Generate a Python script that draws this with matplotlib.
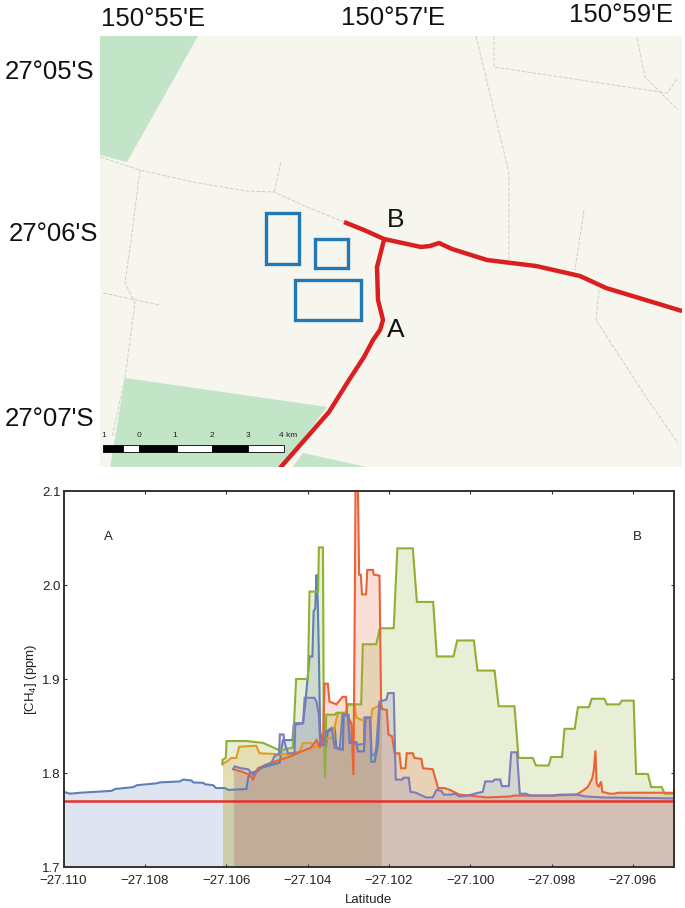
import matplotlib
matplotlib.use("Agg")
import matplotlib.pyplot as plt
from matplotlib.patches import Polygon, Rectangle

plt.rcParams['font.family'] = ['Liberation Sans', 'DejaVu Sans']
plt.rcParams['mathtext.default'] = 'regular'

W, H = 685, 908

# methane traverses, latitude / ppm
blue_lat = [-27.1100, -27.10984, -27.10959, -27.10882, -27.10873, -27.10828, -27.10820, -27.10771, -27.10763,
            -27.10714, -27.10706, -27.10685, -27.10681, -27.10656, -27.10652, -27.10632, -27.10625, -27.10603,
            -27.10595, -27.10550, -27.10546, -27.10542, -27.10530, -27.10518, -27.10468, -27.10464, -27.10460,
            -27.10437, -27.10434, -27.10411, -27.10405, -27.10395, -27.10388, -27.10385, -27.10381, -27.10378,
            -27.10375, -27.10372, -27.10369, -27.10362, -27.10355, -27.10350, -27.10333, -27.10329, -27.10313,
            -27.10311, -27.10301, -27.10296, -27.10280, -27.10276, -27.10261, -27.10260, -27.10246, -27.10243,
            -27.10235, -27.10227, -27.10223, -27.10219]
blue_ch4 = [1.780, 1.778, 1.779, 1.781, 1.783, 1.785, 1.787, 1.789, 1.790,
            1.791, 1.793, 1.792, 1.790, 1.7895, 1.788, 1.787, 1.784, 1.784,
            1.782, 1.783, 1.795, 1.800, 1.801, 1.805, 1.811, 1.827, 1.835,
            1.835, 1.851, 1.853, 1.876, 1.924, 1.924, 1.972, 1.975, 2.011,
            1.986, 1.926, 1.844, 1.830, 1.827, 1.844, 1.848, 1.827, 1.825,
            1.862, 1.861, 1.832, 1.832, 1.823, 1.823, 1.859, 1.859, 1.812,
            1.812, 1.830, 1.866, 1.876]

orange_lat = [-27.10609, -27.10599, -27.10587, -27.10575, -27.10568, -27.10526, -27.10518, -27.10468, -27.10444,
              -27.10419, -27.10411, -27.10391, -27.10383, -27.10350, -27.10337, -27.10333, -27.10325, -27.10305,
              -27.10301, -27.10284, -27.10280, -27.10264, -27.10243, -27.10241, -27.10227, -27.10219]
orange_ch4 = [1.810, 1.812, 1.816, 1.816, 1.828, 1.829, 1.821, 1.820, 1.820,
              1.823, 1.832, 1.832, 1.827, 1.837, 1.838, 1.850, 1.864, 1.864,
              1.873, 1.873, 1.859, 1.856, 1.859, 1.868, 1.871, 1.876]

green_lat = [-27.10609, -27.10609, -27.10601, -27.10599, -27.10550, -27.10509, -27.10468, -27.10436, -27.10428, -27.10399,
             -27.10395, -27.10374, -27.10372, -27.10362, -27.10360, -27.10357, -27.10354, -27.10333, -27.10329,
             -27.10305, -27.10301, -27.10268, -27.10264, -27.10231, -27.10222, -27.10188, -27.10179, -27.10141,
             -27.10131, -27.10091, -27.10082, -27.10041, -27.10032, -27.09991, -27.09982, -27.09940, -27.09930,
             -27.09891, -27.09881, -27.09846, -27.09838, -27.09807, -27.09801, -27.09774, -27.09768, -27.09743,
             -27.09735, -27.09708, -27.09701, -27.09670, -27.09664, -27.09633, -27.09627, -27.09598, -27.09592,
             -27.09563, -27.09555, -27.09529, -27.09522, -27.09500]
green_ch4 = [1.809, 1.814, 1.816, 1.834, 1.834, 1.832, 1.824, 1.827, 1.900, 1.900,
             1.993, 1.993, 2.040, 2.040, 1.862, 1.795, 1.862, 1.862, 1.864,
             1.864, 1.873, 1.873, 1.937, 1.937, 1.954, 1.954, 2.039, 2.039,
             1.982, 1.982, 1.924, 1.924, 1.941, 1.941, 1.909, 1.909, 1.871,
             1.871, 1.816, 1.816, 1.808, 1.808, 1.817, 1.817, 1.847, 1.847,
             1.870, 1.870, 1.879, 1.879, 1.873, 1.873, 1.877, 1.877, 1.799,
             1.799, 1.785, 1.785, 1.778, 1.778]

red_lat = [-27.10581, -27.10559, -27.10542, -27.10534, -27.10522, -27.10501, -27.10468, -27.10440, -27.10415,
           -27.10391, -27.10378, -27.10370, -27.10362, -27.10358, -27.10350, -27.10346, -27.10329, -27.10314,
           -27.10305, -27.10303, -27.10292, -27.10287, -27.10284, -27.10282, -27.10276, -27.10273, -27.10269,
           -27.10266, -27.10256, -27.10253, -27.10239, -27.10237, -27.10223, -27.10219, -27.10216, -27.10205,
           -27.10201, -27.10192, -27.10186, -27.10174, -27.10170, -27.10159, -27.10156, -27.10141, -27.10137,
           -27.10120, -27.10116, -27.10092, -27.10079, -27.10063, -27.10050, -27.10026, -27.10001, -27.09960,
           -27.09903, -27.09891, -27.09797, -27.09739, -27.09727, -27.09711, -27.09700, -27.09696, -27.09692,
           -27.09689, -27.09684, -27.09678, -27.09675, -27.09657, -27.09645, -27.09637, -27.09500]
red_ch4 = [1.804, 1.801, 1.798, 1.793, 1.805, 1.809, 1.814, 1.818, 1.823,
           1.827, 1.835, 1.827, 1.834, 1.895, 1.895, 1.876, 1.873, 1.881,
           1.881, 1.862, 1.853, 1.798, 1.965, 2.100, 2.100, 2.011, 2.011,
           1.990, 1.990, 2.016, 2.016, 2.011, 2.010, 1.873, 1.868, 1.867,
           1.841, 1.839, 1.821, 1.821, 1.805, 1.805, 1.821, 1.821, 1.816,
           1.815, 1.805, 1.804, 1.784, 1.784, 1.782, 1.777, 1.776, 1.774,
           1.775, 1.776, 1.776, 1.777, 1.780, 1.785, 1.794, 1.803, 1.824,
           1.789, 1.785, 1.791, 1.780, 1.778, 1.778, 1.779, 1.779]

purple_lat = [-27.10583, -27.10579, -27.10563, -27.10546, -27.10534, -27.10522, -27.10513, -27.10489, -27.10481,
              -27.10470, -27.10468, -27.10459, -27.10456, -27.10448, -27.10432, -27.10430, -27.10411, -27.10407,
              -27.10383, -27.10378, -27.10372, -27.10369, -27.10358, -27.10355, -27.10341, -27.10333, -27.10321,
              -27.10314, -27.10299, -27.10296, -27.10280, -27.10278, -27.10260, -27.10257, -27.10246, -27.10242,
              -27.10235, -27.10231, -27.10223, -27.10206, -27.10202, -27.10188, -27.10183, -27.10167, -27.10164,
              -27.10151, -27.10147, -27.10133, -27.10124, -27.10108, -27.10092, -27.10083, -27.10071, -27.10065,
              -27.10046, -27.10038, -27.10026, -27.10005, -27.09989, -27.09969, -27.09963, -27.09944, -27.09940,
              -27.09926, -27.09922, -27.09905, -27.09899, -27.09885, -27.09878, -27.09862, -27.09854, -27.09797,
              -27.09780, -27.09739, -27.09715, -27.09674, -27.09500]
purple_ch4 = [1.804, 1.807, 1.805, 1.804, 1.798, 1.802, 1.806, 1.811, 1.818,
              1.820, 1.841, 1.841, 1.832, 1.821, 1.821, 1.853, 1.853, 1.880,
              1.880, 1.876, 1.862, 1.830, 1.830, 1.844, 1.848, 1.827, 1.825,
              1.862, 1.862, 1.833, 1.833, 1.830, 1.831, 1.859, 1.859, 1.820,
              1.819, 1.827, 1.876, 1.878, 1.885, 1.885, 1.793, 1.793, 1.795,
              1.795, 1.780, 1.779, 1.777, 1.774, 1.774, 1.782, 1.781, 1.777,
              1.777, 1.778, 1.775, 1.776, 1.778, 1.780, 1.791, 1.791, 1.793,
              1.793, 1.786, 1.786, 1.822, 1.822, 1.778, 1.778, 1.776, 1.776,
              1.777, 1.777, 1.775, 1.774, 1.773]

background_ch4 = 1.77

series = [(blue_lat, blue_ch4, '#5E81B5'),
          (orange_lat, orange_ch4, '#E19C24'),
          (green_lat, green_ch4, '#8FB032'),
          (red_lat, red_ch4, '#EB6235'),
          (purple_lat, purple_ch4, '#7C7CBC')]

xticks = [-27.110, -27.108, -27.106, -27.104, -27.102, -27.100, -27.098, -27.096]
xtick_labels = ['\u221227.110', '\u221227.108', '\u221227.106', '\u221227.104',
                '\u221227.102', '\u221227.100', '\u221227.098', '\u221227.096']
yticks = [1.7, 1.8, 1.9, 2.0, 2.1]

# map pieces, in map image pixels
green_areas = [[(100, 36), (198, 36), (127, 162), (100, 155)],
               [(125, 378), (327, 407), (281, 468), (110, 468)],
               [(303, 453), (371, 468), (292, 468)]]
study_boxes = [(266, 213, 33, 51), (315, 239, 33, 29), (295, 280, 66, 40)]
road_a = [(280, 468), (329, 412), (349, 380), (364, 357), (373, 340), (380, 330), (383, 320), (378, 300),
          (377, 267), (384, 240)]
road_b = [(344, 222), (364, 230), (384, 239), (421, 247), (430, 246), (439, 243), (452, 249), (487, 260),
          (536, 266), (580, 276), (606, 288), (682, 311)]
tracks = [[(100, 157), (140, 170), (193, 182), (246, 191), (274, 192), (307, 207), (344, 222)],
          [(140, 170), (132, 233), (125, 283), (135, 303), (125, 378), (112, 437)],
          [(281, 162), (274, 192)],
          [(476, 36), (509, 173), (509, 260)],
          [(494, 36), (494, 67), (667, 93), (678, 78)],
          [(637, 38), (645, 77), (678, 110)],
          [(584, 210), (575, 270)],
          [(599, 290), (596, 320), (646, 397), (678, 443)],
          [(103, 293), (160, 305)]]
scale_edges = [103, 123, 139, 177, 212, 248, 284]
scale_ticks = [104, 139, 175, 212, 248]
scale_labels = ['1', '0', '1', '2', '3']

fig = plt.figure(figsize=(W / 100, H / 100), dpi=100)

# map
ax_map = fig.add_axes([100 / W, 1 - 467 / H, 582 / W, 431 / H])
ax_map.set_xlim(100, 682)
ax_map.set_ylim(467, 36)
ax_map.axis('off')
ax_map.add_patch(Rectangle((100, 36), 582, 431, fc='#f7f6ee', ec='none'))
for pts in green_areas:
    ax_map.add_patch(Polygon(pts, fc='#c2e4c7', ec='none'))
for pts in tracks:
    ax_map.plot([p[0] for p in pts], [p[1] for p in pts], color='#cfcfc8', lw=0.7, ls=(0, (4, 1.5)))
for x, y, w, h in study_boxes:
    ax_map.add_patch(Rectangle((x, y), w, h, fc='none', ec='#2178b5', lw=2.4))
for pts in (road_a, road_b):
    ax_map.plot([p[0] for p in pts], [p[1] for p in pts], color='#d91f20', lw=3.2, solid_capstyle='butt')
ax_map.text(396, 330, 'A', fontsize=19, ha='center', va='center', color='#111111')
ax_map.text(396, 220, 'B', fontsize=19, ha='center', va='center', color='#111111')

# scale bar
for i in range(len(scale_edges) - 1):
    ax_map.add_patch(Rectangle((scale_edges[i], 445), scale_edges[i + 1] - scale_edges[i], 7,
                               fc='black' if i % 2 == 0 else 'white', ec='black', lw=0.6))
for x, lab in zip(scale_ticks, scale_labels):
    ax_map.text(x, 436, lab, fontsize=6, ha='center', va='center', color='#222222')
ax_map.text(288, 436, '4 km', fontsize=6, ha='center', va='center', color='#222222')

# map graticule labels
for x, y, s in [(153, 19, "150\u00b055'E"), (393, 18, "150\u00b057'E"), (621, 15, "150\u00b059'E")]:
    fig.text(x / W, 1 - y / H, s, fontsize=18.5, ha='center', va='center', color='#111111')
for x, y, s in [(50, 72, "27\u00b005'S"), (53, 234, "27\u00b006'S"), (50, 419, "27\u00b007'S")]:
    fig.text(x / W, 1 - y / H, s, fontsize=18.5, ha='center', va='center', color='#111111')

# methane chart
ax = fig.add_axes([63.5 / W, 1 - 867 / H, 610 / W, 376 / H])
for lat, ch4, col in series:
    ax.fill_between(lat, 1.7, ch4, color=col, alpha=0.2, lw=0)
    ax.plot(lat, ch4, color=col, lw=1.5, solid_joinstyle='miter')
ax.axhline(background_ch4, color='#e8302a', lw=1.8)
ax.set_xlim(-27.110, -27.095)
ax.set_ylim(1.7, 2.1)
ax.set_xticks(xticks)
ax.set_xticklabels(xtick_labels)
ax.set_yticks(yticks)
ax.tick_params(direction='in', length=2, width=0.8, top=True, right=True, labelsize=9.5,
               color='#333333', labelcolor='#222222', pad=2)
ax.tick_params(axis='x', pad=6)
for s in ax.spines.values():
    s.set_linewidth(1.4)
    s.set_color('#333333')
ax.set_xlabel('Latitude', fontsize=9.5, color='#222222', labelpad=5)
ax.set_ylabel('[CH$_4$] (ppm)', fontsize=9.5, color='#222222', labelpad=2)
ax.text(-27.1089, 2.051, 'A', fontsize=9.5, ha='center', va='center', color='#222222')
ax.text(-27.0959, 2.051, 'B', fontsize=9.5, ha='center', va='center', color='#222222')

fig.savefig('out.png', dpi=100)
